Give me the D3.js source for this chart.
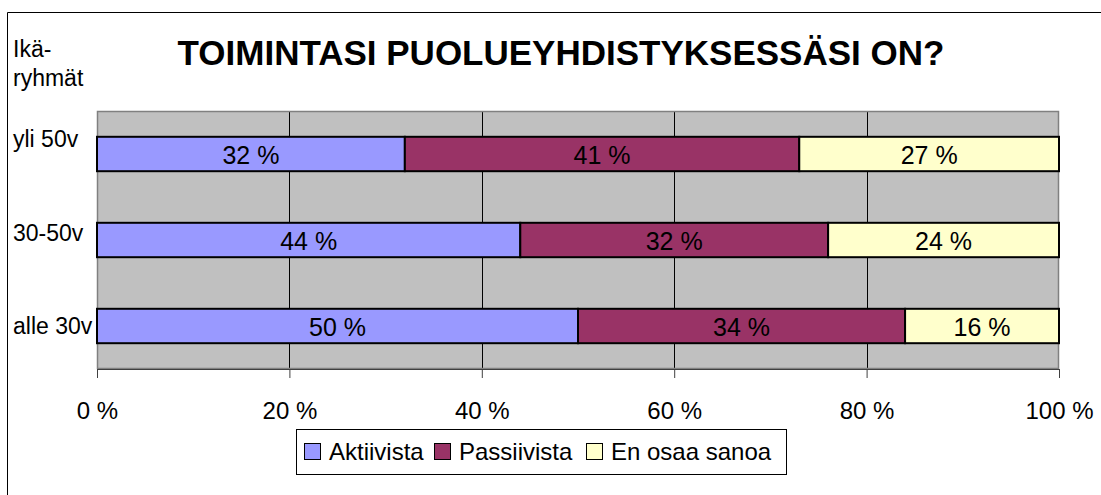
<!DOCTYPE html>
<html>
<head>
<meta charset="utf-8">
<script src="https://cdn.jsdelivr.net/npm/d3@7"></script>
<style>
  html, body { margin: 0; padding: 0; background: #fff; overflow: hidden; }
  svg { display: block; }
  text { font-family: "Liberation Sans", Arial, sans-serif; }
</style>
</head>
<body>
<svg id="chart" width="1101" height="495"></svg>
<script>
const categories = ["yli 50v", "30-50v", "alle 30v"];
const seriesNames = ["Aktiivista", "Passiivista", "En osaa sanoa"];
const aktiivista = [32, 44, 50];
const passiivista = [41, 32, 34];
const enOsaa = [27, 24, 16];
const tickValues = [0, 20, 40, 60, 80, 100];
const seriesColors = ["#9999ff", "#993366", "#ffffcc"];

const svg = d3.select("#chart");
const margin = { top: 111, left: 97, right: 42, bottom: 126 };
const width = +svg.attr("width");
const height = +svg.attr("height");
const innerWidth = width - margin.left - margin.right;
const innerHeight = height - margin.top - margin.bottom;

// outer frame (runs off the right and bottom edge)
svg.append("path")
    .attr("d", `M7.5,${height} V12.5 H${width}`)
    .attr("fill", "none")
    .attr("stroke", "#000");

const data = categories.map((c, i) => {
    const vals = [aktiivista[i], passiivista[i], enOsaa[i]];
    const row = { category: c };
    seriesNames.forEach((s, j) => row[s] = vals[j]);
    return row;
});
const stacked = d3.stack().keys(seriesNames)(data);

const x = d3.scaleLinear().domain([0, 100]).range([0, innerWidth]);
const y = d3.scaleBand()
    .domain(categories)
    .range([0, innerHeight])
    .paddingInner(0.6)
    .paddingOuter(0.3);
const color = d3.scaleOrdinal().domain(seriesNames).range(seriesColors);

const g = svg.append("g").attr("transform", `translate(${margin.left},${margin.top})`);

// plot background
g.append("rect")
    .attr("width", innerWidth).attr("height", innerHeight)
    .attr("fill", "#c0c0c0");

// gridlines
g.selectAll(".grid")
    .data(tickValues.slice(1, -1))
    .enter().append("line")
    .attr("x1", d => Math.round(x(d)) + 0.5)
    .attr("x2", d => Math.round(x(d)) + 0.5)
    .attr("y1", 0).attr("y2", innerHeight)
    .attr("stroke", "#000");

// plot border
g.append("rect")
    .attr("x", 0.5).attr("y", 0.5)
    .attr("width", innerWidth - 1).attr("height", innerHeight - 1)
    .attr("fill", "none")
    .attr("stroke", "#808080")
    .attr("stroke-width", 1.5);

// bars
const layers = g.selectAll(".layer")
    .data(stacked)
    .enter().append("g")
    .attr("fill", d => color(d.key));

layers.selectAll("rect")
    .data(d => d)
    .enter().append("rect")
    .attr("x", d => x(d[0]))
    .attr("y", d => y(d.data.category))
    .attr("width", d => x(d[1]) - x(d[0]))
    .attr("height", y.bandwidth())
    .attr("stroke", "#000")
    .attr("stroke-width", 2);

layers.selectAll("text")
    .data(d => d)
    .enter().append("text")
    .attr("x", d => (x(d[0]) + x(d[1])) / 2)
    .attr("y", d => y(d.data.category) + y.bandwidth() / 2 + 10)
    .attr("text-anchor", "middle")
    .attr("fill", "#000")
    .style("font-size", "25px")
    .text(d => `${d[1] - d[0]} %`);

// x axis
const xAxis = g.append("g")
    .attr("transform", `translate(0,${innerHeight})`)
    .call(d3.axisBottom(x).tickValues(tickValues).tickSize(9).tickSizeOuter(0).tickFormat(d => `${d} %`));
xAxis.select(".domain").attr("stroke", "#404040");
xAxis.selectAll(".tick line").attr("stroke", "#404040");
xAxis.selectAll(".tick text")
    .attr("y", 50)
    .attr("dy", null)
    .attr("fill", "#000")
    .style("font-size", "24px")
    .style("font-family", "'Liberation Sans', Arial, sans-serif");

// category labels sit on their own evenly spaced scale, as in the original
const labelY = d3.scalePoint().domain(categories).range([139, 326]);
svg.selectAll(".cat")
    .data(categories)
    .enter().append("text")
    .attr("x", 13)
    .attr("y", d => labelY(d) + 8)
    .style("font-size", "23px")
    .text(d => d);

// axis caption
svg.append("text").attr("x", 13).attr("y", 57).style("font-size", "23px").text("Ikä-");
svg.append("text").attr("x", 13).attr("y", 86).style("font-size", "23px").text("ryhmät");

// title
svg.append("text")
    .attr("x", 561)
    .attr("y", 65)
    .attr("text-anchor", "middle")
    .style("font-size", "35px")
    .style("font-weight", "bold")
    .text("TOIMINTASI PUOLUEYHDISTYKSESSÄSI ON?");

// legend
const legend = svg.append("g").attr("transform", "translate(296,429)");
legend.append("rect")
    .attr("x", 0.5).attr("y", 0.5)
    .attr("width", 490).attr("height", 45)
    .attr("fill", "#fff")
    .attr("stroke", "#000");

const itemX = [8, 138, 290];
const items = legend.selectAll(".item")
    .data(seriesNames)
    .enter().append("g")
    .attr("transform", (d, i) => `translate(${itemX[i]},0)`);
items.append("rect")
    .attr("x", 0.5).attr("y", 14.5)
    .attr("width", 16).attr("height", 16)
    .attr("fill", d => color(d))
    .attr("stroke", "#000");
items.append("text")
    .attr("x", 25)
    .attr("y", 31)
    .style("font-size", "24px")
    .text(d => d);
</script>
</body>
</html>
